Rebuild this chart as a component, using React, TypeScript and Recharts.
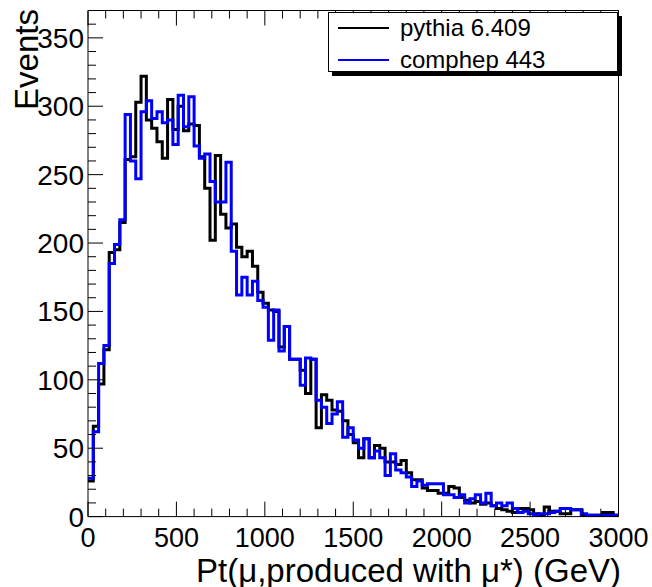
import { Line, LineChart, XAxis, YAxis } from "recharts";

// 100 bins of 30 GeV from 0 to 3000
const BIN_WIDTH = 30;

const pythia = [
  26, 66, 97, 122, 193, 195, 215, 261, 263, 303,
  322, 290, 284, 274, 262, 305, 283, 300, 282, 287,
  286, 263, 240, 202, 264, 221, 211, 214, 197, 190,
  194, 183, 164, 156, 151, 150, 124, 139, 115, 115,
  107, 90, 115, 65, 89, 85, 78, 77, 70, 60,
  54, 43, 57, 43, 52, 50, 40, 40, 38, 41,
  32, 27, 27, 21, 19, 19, 17, 17, 22, 21,
  14, 12, 10, 11, 9, 10, 8, 6, 5, 4,
  3, 6, 6, 5, 2, 1, 7, 4, 4, 2,
  2, 5, 5, 1, 1, 1, 1, 3, 3, 1,
];

const comphep = [
  28, 62, 112, 125, 185, 199, 217, 294, 260, 247,
  296, 304, 291, 296, 288, 290, 272, 308, 285, 307,
  271, 262, 265, 245, 230, 230, 259, 194, 162, 175,
  162, 172, 158, 153, 129, 151, 121, 139, 115, 115,
  96, 116, 115, 85, 80, 68, 75, 84, 58, 65,
  56, 50, 57, 43, 48, 43, 30, 46, 34, 32,
  29, 22, 26, 23, 24, 24, 24, 16, 16, 14,
  16, 10, 13, 16, 10, 17, 8, 10, 8, 10,
  6, 3, 4, 2, 1, 2, 2, 3, 4, 6,
  6, 5, 5, 2, 1, 1, 1, 1, 1, 1,
];

const seriesNames = ["pythia 6.409", "comphep 443"];
const seriesColors = ["#000000", "#0000ff"];

const xMajor = [0, 500, 1000, 1500, 2000, 2500, 3000];
const yMajor = [0, 50, 100, 150, 200, 250, 300, 350];
const X_MINOR_STEP = 100;
const Y_MINOR_STEP = 10;
const X_MAX = 3000;
const Y_MAX = 370;

const xTicks: number[] = [];
for (let v = 0; v <= X_MAX; v += X_MINOR_STEP) xTicks.push(v);
const yTicks: number[] = [];
for (let v = 0; v <= Y_MAX; v += Y_MINOR_STEP) yTicks.push(v);

// step histogram: one point per low edge, plus a closing point at the upper edge
const data = pythia.map((p, i) => ({ x: i * BIN_WIDTH, pythia: p, comphep: comphep[i] }));
data.push({ x: pythia.length * BIN_WIDTH, pythia: pythia[pythia.length - 1], comphep: comphep[comphep.length - 1] });

const FONT = "'Liberation Sans', Arial, Helvetica, sans-serif";
const MAJOR = 15;
const MINOR = 8;

function BottomTick(props: any) {
  const { x, y, payload } = props;
  const major = xMajor.includes(payload.value);
  return (
    <g>
      <line x1={x} x2={x} y1={y} y2={y - (major ? MAJOR : MINOR)} stroke="#000" strokeWidth={1} />
      {major && (
        <text x={x} y={y + 30} textAnchor="middle" fontSize={27} fontFamily={FONT} fill="#000">
          {payload.value}
        </text>
      )}
    </g>
  );
}

function TopTick(props: any) {
  const { x, y, payload } = props;
  const major = xMajor.includes(payload.value);
  return <line x1={x} x2={x} y1={y} y2={y + (major ? MAJOR : MINOR)} stroke="#000" strokeWidth={1} />;
}

function LeftTick(props: any) {
  const { x, y, payload } = props;
  const major = yMajor.includes(payload.value);
  return (
    <g>
      <line x1={x} x2={x + (major ? MAJOR : MINOR)} y1={y} y2={y} stroke="#000" strokeWidth={1} />
      {major && (
        <text x={x - 4} y={y + 10} textAnchor="end" fontSize={28} fontFamily={FONT} fill="#000">
          {payload.value}
        </text>
      )}
    </g>
  );
}

function RightTick(props: any) {
  const { x, y, payload } = props;
  const major = yMajor.includes(payload.value);
  return <line x1={x} x2={x - (major ? MAJOR : MINOR)} y1={y} y2={y} stroke="#000" strokeWidth={1} />;
}

function HistLegend() {
  return (
    <div
      style={{
        position: "absolute",
        left: 328,
        top: 12,
        width: 288,
        height: 58,
        border: "1px solid #000",
        background: "#fff",
        boxShadow: "4px 4px 0 0 #000",
        fontFamily: FONT,
        fontSize: 24,
      }}
    >
      {seriesNames.map((name, i) => (
        <div
          key={name}
          style={{ position: "absolute", left: 9, top: 1 + i * 32, height: 28, display: "flex", alignItems: "center" }}
        >
          <div style={{ width: 51, height: 2, background: seriesColors[i] }} />
          <span style={{ marginLeft: 11, color: "#000", lineHeight: "28px", whiteSpace: "nowrap" }}>{name}</span>
        </div>
      ))}
    </div>
  );
}

export default function App() {
  return (
    <div style={{ position: "absolute", left: 0, top: 0, width: 652, height: 587, background: "#fff" }}>
      <LineChart width={652} height={587} data={data} margin={{ top: 9.5, right: 32.5, bottom: 10.4, left: 0 }}>
        <XAxis
          xAxisId="b"
          dataKey="x"
          type="number"
          domain={[0, X_MAX]}
          ticks={xTicks}
          interval={0}
          tickSize={0}
          tickMargin={0}
          tick={<BottomTick />}
          height={60}
          axisLine={{ stroke: "#000" }}
          tickLine={false}
          label={{
            content: () => (
              <text x={621} y={581.5} textAnchor="end" fontSize={33} fontFamily={FONT} fill="#000">
                Pt(μ,produced with μ*) (GeV)
              </text>
            ),
          }}
        />
        <XAxis
          xAxisId="t"
          orientation="top"
          dataKey="x"
          type="number"
          domain={[0, X_MAX]}
          ticks={xTicks}
          interval={0}
          tickSize={0}
          tickMargin={0}
          tick={<TopTick />}
          height={1}
          axisLine={{ stroke: "#000" }}
          tickLine={false}
        />
        <YAxis
          yAxisId="l"
          type="number"
          domain={[0, Y_MAX]}
          ticks={yTicks}
          interval={0}
          tickSize={0}
          tickMargin={0}
          tick={<LeftTick />}
          width={88}
          axisLine={{ stroke: "#000" }}
          tickLine={false}
          label={{
            content: () => (
              <text
                x={38}
                y={9}
                transform="rotate(-90, 38, 9)"
                textAnchor="end"
                fontSize={33}
                fontFamily={FONT}
                fill="#000"
              >
                Events
              </text>
            ),
          }}
        />
        <YAxis
          yAxisId="r"
          orientation="right"
          type="number"
          domain={[0, Y_MAX]}
          ticks={yTicks}
          interval={0}
          tickSize={0}
          tickMargin={0}
          tick={<RightTick />}
          width={1}
          axisLine={{ stroke: "#000" }}
          tickLine={false}
        />
        <Line
          xAxisId="b"
          yAxisId="l"
          type="stepAfter"
          dataKey="pythia"
          name={seriesNames[0]}
          stroke={seriesColors[0]}
          strokeWidth={3}
          dot={false}
          activeDot={false}
          isAnimationActive={false}
        />
        <Line
          xAxisId="b"
          yAxisId="l"
          type="stepAfter"
          dataKey="comphep"
          name={seriesNames[1]}
          stroke={seriesColors[1]}
          strokeWidth={3}
          dot={false}
          activeDot={false}
          isAnimationActive={false}
        />
      </LineChart>
      <HistLegend />
    </div>
  );
}
